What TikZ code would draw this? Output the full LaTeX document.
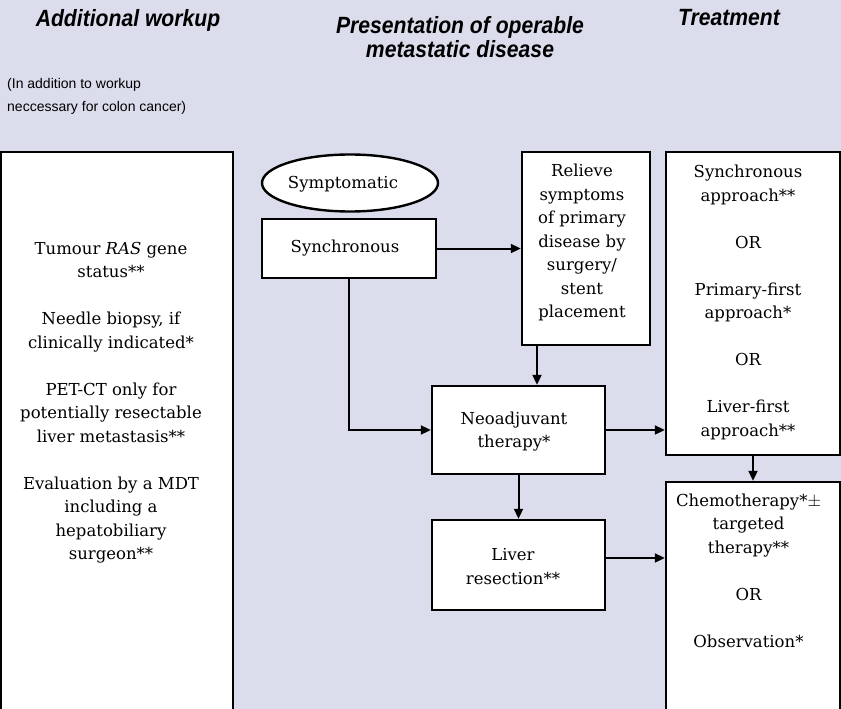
\documentclass[tikz,border=0pt]{standalone}
\usepackage{fontspec}
\setmainfont{DejaVu Serif}
\newfontfamily\headfont[FakeStretch=0.9]{Liberation Sans}
\newfontfamily\notefont{Liberation Sans}
\usetikzlibrary{arrows.meta,shapes.geometric}
\definecolor{bg}{RGB}{220,221,236}
\newcommand\boxfont{\fontsize{16.5}{23.5}\selectfont}
\begin{document}
\begin{tikzpicture}[x=1pt,y=-1pt,
  box/.style={draw, line width=2.4pt, fill=white, inner sep=0pt},
  txt/.style={align=center, font=\boxfont, inner sep=0pt},
  head/.style={align=center, font=\headfont\bfseries\itshape\fontsize{23.5}{23.5}\selectfont, inner sep=0pt},
  arr/.style={line width=2pt, -{Triangle[length=10pt,width=9pt]}},
]
\fill[bg] (0,0) rectangle (841,709);
\useasboundingbox (0,0) rectangle (841,709);
\clip (0,0) rectangle (841,709);

% column headings
\node[head] (h1) at (128,20) {Additional workup};
\node[head] (h2) at (460,37) {Presentation of operable\\metastatic disease};
\node[head] (h3) at (729,18) {Treatment};
\node[anchor=west, align=left, inner sep=0pt,
      font=\notefont\fontsize{14}{22.5}\selectfont] (note) at (7,96.5)
  {(In addition to workup\\neccessary for colon cancer)};

% boxes
\node[box, minimum width=232pt, minimum height=570pt] (wk) at (117,437) {};
\node[box, ellipse, minimum width=176pt, minimum height=57pt] (sym) at (350,183) {};
\node[box, minimum width=174pt, minimum height=59pt] (syn) at (349,248.5) {};
\node[box, minimum width=128pt, minimum height=193pt] (rel) at (586,248.5) {};
\node[box, minimum width=173pt, minimum height=88pt] (neo) at (518.5,430) {};
\node[box, minimum width=173pt, minimum height=90pt] (liv) at (518.5,565) {};
\node[box, minimum width=174pt, minimum height=303pt] (tr1) at (753,303.5) {};
\node[box, minimum width=174pt, minimum height=240pt] (tr2) at (753,602) {};

% box texts
\node[txt] (wkt) at (111,402.75) {Tumour \textit{RAS} gene\\status**\\[23.5pt]
  Needle biopsy, if\\clinically indicated*\\[23.5pt]
  PET-CT only for\\potentially resectable\\liver metastasis**\\[23.5pt]
  Evaluation by a MDT\\including a\\hepatobiliary\\surgeon**};
\node[txt] (symt) at (343,184) {Symptomatic};
\node[txt] (synt) at (345,248) {Synchronous};
\node[txt] (relt) at (582,242.5) {Relieve\\symptoms\\of primary\\disease by\\surgery/\\stent\\placement};
\node[txt] (neot) at (514,431.5) {Neoadjuvant\\therapy*};
\node[txt] (livt) at (513,566.5) {Liver\\resection**};
\node[txt] (tr1t) at (748,302.5) {Synchronous\\approach**\\[23.5pt]OR\\[23.5pt]
  Primary-first\\approach*\\[23.5pt]OR\\[23.5pt]Liver-first\\approach**};
\node[txt] (tr2t) at (748.5,570.5) {Chemotherapy*$\pm$\\targeted\\therapy**\\[23.5pt]
  OR\\[23.5pt]Observation*};

% connectors
\draw[arr] (syn.east) -- (rel.west |- syn.east);
\draw[arr] (syn.south) |- (neo.west);
\draw[arr] ([xshift=-49pt]rel.south) -- ([xshift=-49pt]rel.south |- neo.north);
\draw[arr] (neo.east) -- (neo.east -| tr1.west);
\draw[arr] (tr1.south) -- (tr2.north);
\draw[arr] (neo.south) -- (liv.north);
\draw[arr] ([yshift=7pt]liv.east) -- ([yshift=7pt]liv.east -| tr2.west);
\end{tikzpicture}
\end{document}
